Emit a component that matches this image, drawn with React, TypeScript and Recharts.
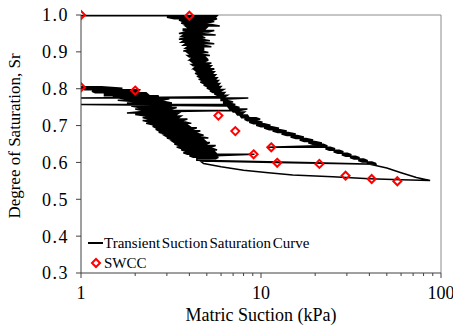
import React from 'react';
import { ComposedChart, Line, Scatter, XAxis, YAxis, ReferenceLine } from 'recharts';

// transient curve. Noisy parts are kept as rows [Sr, left kPa, right kPa]
const dryingRows: number[][] = [
  [0.998, 1.0, 5.7], [0.994, 3.0, 5.6], [0.99, 3.3, 5.7], [0.986, 3.5, 5.4], [0.982, 3.7, 5.5],
  [0.978, 3.6, 5.0], [0.974, 3.8, 5.3], [0.97, 3.8, 5.9], [0.966, 3.9, 5.0], [0.962, 3.7, 4.9],
  [0.958, 3.7, 5.5], [0.954, 3.8, 5.1], [0.95, 3.5, 4.7], [0.946, 3.7, 5.6], [0.942, 3.6, 4.7],
  [0.938, 3.8, 4.9], [0.934, 3.5, 4.7], [0.93, 3.7, 5.2], [0.926, 3.6, 4.8], [0.922, 3.8, 5.5],
  [0.918, 3.7, 4.8], [0.914, 3.9, 5.3], [0.91, 3.8, 4.8], [0.906, 3.9, 4.8], [0.902, 3.7, 4.7],
  [0.898, 3.9, 5.1], [0.894, 4.0, 4.7], [0.89, 3.9, 5.2], [0.886, 4.0, 4.9], [0.882, 4.1, 5.0],
  [0.878, 4.0, 5.1], [0.874, 4.1, 4.9], [0.87, 4.2, 5.3], [0.866, 4.1, 5.1], [0.862, 4.2, 5.3],
  [0.858, 4.3, 5.2], [0.854, 4.2, 5.5], [0.85, 4.3, 5.3], [0.846, 4.4, 5.5], [0.842, 4.3, 5.4],
  [0.838, 4.5, 5.6], [0.834, 4.4, 5.5], [0.83, 4.6, 5.7], [0.826, 4.5, 5.6], [0.822, 4.7, 5.8],
  [0.818, 4.6, 5.7], [0.814, 4.8, 5.9], [0.81, 4.8, 5.8], [0.806, 5.0, 6.0], [0.802, 5.0, 5.9],
  [0.798, 5.2, 6.2], [0.794, 5.2, 6.0], [0.79, 5.4, 6.3], [0.786, 5.5, 6.2], [0.782, 5.7, 6.5],
  [0.778, 5.7, 6.3], [0.775, 1.0, 8.5], [0.772, 6.0, 6.6], [0.768, 6.0, 6.5], [0.764, 6.2, 7.0],
  [0.76, 6.2, 6.8], [0.757, 1.0, 7.2], [0.753, 6.4, 7.1], [0.749, 6.6, 7.6], [0.745, 6.7, 8.4],
  [0.741, 6.9, 7.6], [0.737, 7.0, 8.1], [0.733, 7.3, 7.9], [0.729, 7.4, 8.4], [0.725, 7.7, 8.5],
  [0.721, 7.8, 9.4], [0.717, 8.1, 9.9], [0.713, 8.4, 9.5], [0.709, 8.6, 10.2], [0.705, 9.1, 10.4],
  [0.701, 9.4, 11.3], [0.697, 10.0, 11.5], [0.693, 10.4, 12.6], [0.689, 11.1, 12.8], [0.685, 11.6, 13.9],
  [0.681, 12.4, 14.2], [0.677, 13.0, 15.6], [0.673, 13.9, 15.9], [0.669, 14.6, 17.3], [0.665, 15.6, 17.8],
  [0.661, 16.4, 19.5], [0.657, 17.4, 19.9], [0.653, 18.3, 21.8], [0.649, 19.4, 22.2], [0.645, 20.4, 23.4],
  [0.641, 10.8, 24.3], [0.637, 22.8, 25.8], [0.633, 24.0, 27.2], [0.629, 25.3, 28.7], [0.625, 26.7, 30.2],
  [0.621, 28.1, 31.8], [0.617, 29.6, 33.5], [0.613, 31.2, 35.3], [0.609, 32.9, 37.2], [0.605, 34.7, 39.2],
  [0.601, 36.6, 41.3], [0.597, 38.6, 43.5],
];

const dryingTail: number[][] = [[50, 0.585], [60, 0.572], [73, 0.559], [87, 0.551]];

const returnBranch: number[][] = [
  [60, 0.553], [40, 0.556], [25, 0.561], [15, 0.566], [11, 0.572], [8, 0.579], [6, 0.588],
  [4.8, 0.597], [4.6, 0.604], [12, 0.6], [44, 0.595], [20, 0.599], [4.4, 0.606],
];

const wettingRows: number[][] = [
  [0.61, 4.4, 5.6], [0.614, 4.2, 5.8], [0.618, 4.0, 5.6], [0.622, 3.9, 9.2], [0.626, 3.7, 5.6],
  [0.63, 3.8, 5.5], [0.634, 3.6, 5.7], [0.638, 3.6, 5.4], [0.642, 3.4, 5.3], [0.646, 3.5, 5.6],
  [0.65, 3.3, 5.0], [0.654, 3.3, 5.2], [0.658, 3.2, 4.9], [0.662, 3.2, 4.8], [0.666, 3.0, 5.1],
  [0.67, 3.0, 4.6], [0.674, 2.9, 4.8], [0.678, 2.9, 4.5], [0.682, 2.7, 4.4], [0.686, 2.7, 4.6],
  [0.69, 2.6, 4.2], [0.694, 2.6, 4.4], [0.698, 2.5, 4.0], [0.702, 2.5, 3.9], [0.706, 2.3, 4.1],
  [0.71, 2.4, 3.8], [0.714, 2.2, 3.7], [0.718, 2.35, 3.9], [0.722, 2.2, 3.5], [0.726, 2.3, 3.6],
  [0.73, 2.0, 3.4], [0.734, 1.8, 3.5], [0.738, 2.2, 3.3], [0.741, 2.2, 7.0], [0.745, 2.0, 3.2],
  [0.749, 2.1, 3.4], [0.753, 1.9, 3.1], [0.757, 2.05, 3.0], [0.761, 1.8, 3.2], [0.765, 1.95, 2.9],
  [0.769, 1.6, 2.8], [0.773, 1.75, 3.1], [0.777, 1.5, 2.6], [0.781, 1.35, 2.7], [0.785, 1.35, 2.35],
  [0.789, 1.2, 2.3], [0.793, 1.15, 2.05], [0.797, 1.05, 2.1], [0.801, 1.0, 1.7], [0.805, 1.0, 1.3],
];

const swccSuction = [1.0, 4.0, 1.0, 2.0, 5.8, 7.2, 11.4, 9.1, 12.3, 21.1, 29.5, 41.2, 57.2];
const swccSr = [1.0, 0.998, 0.804, 0.795, 0.727, 0.685, 0.641, 0.622, 0.599, 0.596, 0.564, 0.555, 0.549];

const xTicks = [1, 2, 3, 4, 5, 6, 7, 8, 9, 10, 20, 30, 40, 50, 60, 70, 80, 90, 100];
const xLabelled = [1, 10, 100];
const yTicks = [0.3, 0.4, 0.5, 0.6, 0.7, 0.8, 0.9, 1.0];

// walk each row left->right then right->left so the noisy band fills in
const meander = (rows: number[][]) =>
  rows.flatMap(([y, l, r], i) => (i % 2 === 0 ? [[l, y], [r, y]] : [[r, y], [l, y]]));

const curveData = [
  [1, 1.0],
  ...meander(dryingRows),
  ...dryingTail,
  ...returnBranch,
  ...meander(wettingRows),
].map(([x, y]) => ({ x, y }));
const swccData = swccSuction.map((x, i) => ({ x, y: swccSr[i] }));

const FONT = 'Liberation Serif';

const XTick = (props: any) => {
  const { x, y, payload } = props;
  const major = xLabelled.includes(payload.value);
  return (
    <g>
      <line x1={x} x2={x} y1={y} y2={y + (major ? 5 : 3)} stroke="#404040" />
      {major && (
        <text x={x} y={y + 26} textAnchor="middle" fontFamily={FONT} fontSize={18} fill="#000">
          {payload.value}
        </text>
      )}
    </g>
  );
};

const diamond = (props: any) => {
  const { cx, cy } = props;
  const r = 4;
  return (
    <path
      d={`M${cx},${cy - r}L${cx + r},${cy}L${cx},${cy + r}L${cx - r},${cy}Z`}
      fill="none"
      stroke="#ff0000"
      strokeWidth={2}
    />
  );
};

const xLabel = (props: any) => {
  const { viewBox } = props;
  return (
    <text x={viewBox.x + viewBox.width / 2} y={321} textAnchor="middle" fontFamily={FONT} fontSize={18} fill="#000">
      Matric Suction (kPa)
    </text>
  );
};

const yLabel = () => {
  const cx = 20;
  const cy = 136;
  return (
    <text x={cx} y={cy} transform={`rotate(-90 ${cx} ${cy})`} textAnchor="middle" fontFamily={FONT} fontSize={17} fill="#000">
      Degree of Saturation, Sr
    </text>
  );
};

export default function App() {
  return (
    <div style={{ position: 'absolute', left: 0, top: 0, width: 453, height: 328, background: '#fff' }}>
      <ComposedChart width={453} height={328} margin={{ top: 15, right: 12, bottom: 0, left: 0 }}>
        <XAxis
          dataKey="x"
          type="number"
          scale="log"
          domain={[1, 100]}
          ticks={xTicks}
          interval={0}
          allowDataOverflow
          height={55}
          tickSize={0}
          tickMargin={0}
          tickLine={false}
          tick={<XTick />}
          axisLine={{ stroke: '#404040' }}
          label={xLabel}
        />
        <YAxis
          dataKey="y"
          type="number"
          domain={[0.3, 1]}
          ticks={yTicks}
          interval={0}
          width={81}
          tickSize={5}
          tickMargin={7}
          tickFormatter={(v: number) => v.toFixed(1)}
          tick={{ fontFamily: FONT, fontSize: 18, fill: '#000', letterSpacing: 1.5 }}
          tickLine={{ stroke: '#404040' }}
          axisLine={{ stroke: '#404040' }}
          label={yLabel}
        />
        <ReferenceLine y={1} stroke="#8c8c8c" />
        <ReferenceLine x={100} stroke="#8c8c8c" />
        <Line
          data={curveData}
          dataKey="y"
          type="linear"
          stroke="#000"
          strokeWidth={1.5}
          dot={false}
          activeDot={false}
          isAnimationActive={false}
        />
        <Scatter data={swccData} dataKey="y" shape={diamond} isAnimationActive={false} />
      </ComposedChart>
      <div style={{ position: 'absolute', left: 86, top: 233, fontFamily: FONT, fontSize: 15, lineHeight: '20px', color: '#000' }}>
        <div style={{ display: 'flex', alignItems: 'center', height: 20 }}>
          <svg width={18} height={20}>
            <line x1={2} x2={17} y1={10} y2={10} stroke="#000" strokeWidth={2} />
          </svg>
          <span style={{ wordSpacing: -2 }}>Transient Suction Saturation Curve</span>
        </div>
        <div style={{ display: 'flex', alignItems: 'center', height: 20 }}>
          <svg width={18} height={20}>
            <path d="M10,6L14,10L10,14L6,10Z" fill="#fff" stroke="#ff0000" strokeWidth={2} />
          </svg>
          <span>SWCC</span>
        </div>
      </div>
    </div>
  );
}
